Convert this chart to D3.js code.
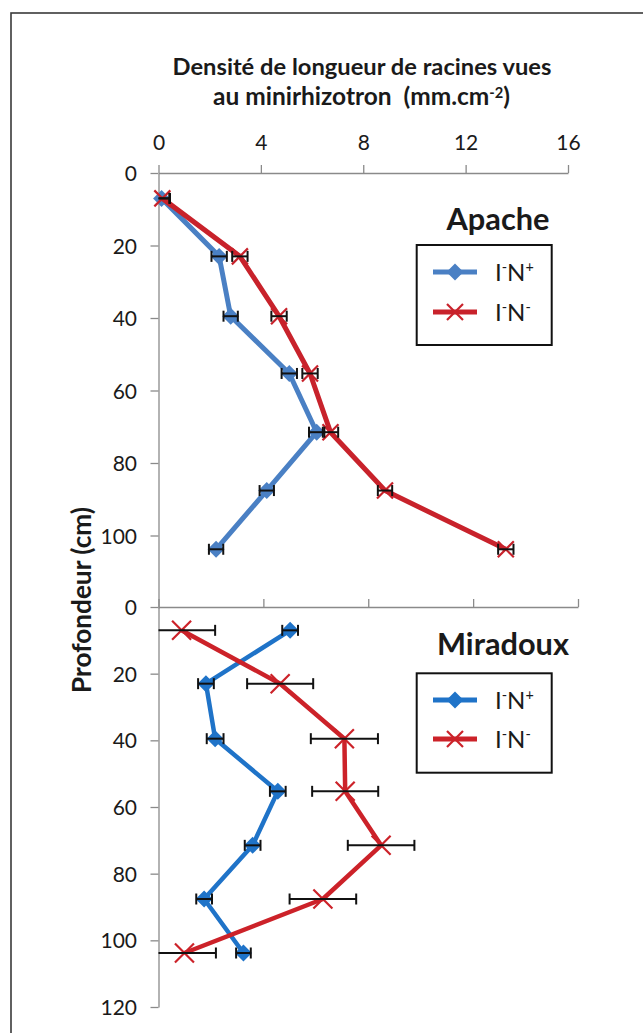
<!DOCTYPE html>
<html>
<head>
<meta charset="utf-8">
<script src="https://cdn.jsdelivr.net/npm/d3@7/dist/d3.min.js"></script>
<style>
  html, body { margin: 0; padding: 0; background: #fff; }
  svg { display: block; }
  text { font-family: Lato, "Open Sans", sans-serif; fill: #1a1a1a; }
</style>
</head>
<body>
<svg id="chart" width="643" height="1033"></svg>
<script>
// ---------- DATA ----------
const depths = [7, 23, 39.5, 55.3, 71.5, 87.6, 103.8];
const xTickValues = [0, 4, 8, 12, 16];
const yTickValuesTop = [0, 20, 40, 60, 80, 100];
const yTickValuesBottom = [0, 20, 40, 60, 80, 100, 120];

const apacheNplus = [0.12, 2.37, 2.82, 5.11, 6.18, 4.23, 2.25];
const apacheNplusErr = [0.3, 0.3, 0.28, 0.3, 0.3, 0.28, 0.28];
const apacheNminus = [0.15, 3.18, 4.71, 5.92, 6.72, 8.85, 13.57];
const apacheNminusErr = [0.3, 0.3, 0.3, 0.3, 0.3, 0.28, 0.3];

const miradouxNplus = [5.02, 1.81, 2.16, 4.55, 3.59, 1.74, 3.24];
const miradouxNplusErr = [0.3, 0.3, 0.32, 0.3, 0.3, 0.3, 0.28];
const miradouxNminus = [0.88, 4.64, 7.09, 7.12, 8.49, 6.27, 0.99];
const miradouxNminusErr = [1.28, 1.26, 1.28, 1.26, 1.27, 1.27, 1.2];

const titleLine1 = "Densité de longueur de racines vues";
const yAxisLabel = "Profondeur (cm)";
const panelNames = ["Apache", "Miradoux"];

// ---------- SETUP ----------
const svg = d3.select("#chart");
const axisColor = "#8a8a8a";

// outer frame
svg.append("rect").attr("x", 11).attr("y", 13).attr("width", 700).attr("height", 1100)
  .attr("fill", "none").attr("stroke", "#3a3a3a").attr("stroke-width", 1.6);

function fitText(sel, w) {
  const node = sel.node();
  const cur = parseFloat(sel.attr("font-size"));
  const len = node.getComputedTextLength();
  sel.attr("font-size", (cur * w / len).toFixed(2));
}

// title
const t1 = svg.append("text").attr("x", 362).attr("y", 75).attr("text-anchor", "middle")
  .attr("font-weight", "bold").attr("font-size", 17).text(titleLine1);
fitText(t1, 379);
const t2 = svg.append("text").attr("x", 361.5).attr("y", 104.5).attr("text-anchor", "middle")
  .attr("font-weight", "bold").attr("font-size", 17);
t2.append("tspan").text("au minirhizotron\u00A0\u00A0(mm.cm");
t2.append("tspan").attr("dy", -7).attr("font-size", "0.6em").text("-2");
t2.append("tspan").attr("dy", 7).text(")");
fitText(t2, 297);

// y-axis label
const yl = svg.append("text").attr("transform", "translate(91,600) rotate(-90)")
  .attr("text-anchor", "middle").attr("font-weight", "bold").attr("font-size", 18).text(yAxisLabel);
fitText(yl, 186);

// ---------- PANELS ----------
const panels = [
  {
    name: panelNames[0], top: true,
    x: d3.scaleLinear().domain([0, 16]).range([158.5, 568]),
    y: d3.scaleLinear().domain([0, 120]).range([173, 608]),
    yTicks: yTickValuesTop,
    blue: "#4a80c4", red: "#c8222b", lw: 5,
    nplus: apacheNplus, nplusErr: apacheNplusErr,
    nminus: apacheNminus, nminusErr: apacheNminusErr,
    title: { x: 498, y: 230, w: 103 },
    legend: { x: 416.7, y: 245, w: 135, h: 100, l1: 272, l2: 312 }
  },
  {
    name: panelNames[1], top: false,
    x: d3.scaleLinear().domain([0, 16]).range([158.5, 578]),
    y: d3.scaleLinear().domain([0, 120]).range([607, 1007]),
    yTicks: yTickValuesBottom,
    blue: "#1f73c8", red: "#cc2229", lw: 4.5,
    nplus: miradouxNplus, nplusErr: miradouxNplusErr,
    nminus: miradouxNminus, nminusErr: miradouxNminusErr,
    title: { x: 503, y: 655, w: 132 },
    legend: { x: 416.7, y: 673.3, w: 135, h: 99.4, l1: 700, l2: 739 }
  }
];

function styleAxis(g) {
  g.selectAll("path.domain").attr("stroke", axisColor).attr("stroke-width", 1.3);
  g.selectAll(".tick line").attr("stroke", axisColor).attr("stroke-width", 1.3);
  g.selectAll(".tick text").attr("font-family", "Lato, sans-serif").attr("font-size", 21).attr("fill", "#1a1a1a");
}

function diamond(sel, cx, cy, r, color) {
  sel.append("path")
    .attr("d", `M${cx},${cy - r}L${cx + r},${cy}L${cx},${cy + r}L${cx - r},${cy}Z`)
    .attr("fill", color);
}
function cross(sel, cx, cy, r, color) {
  sel.append("path")
    .attr("d", `M${cx - r},${cy - r}L${cx + r},${cy + r}M${cx - r},${cy + r}L${cx + r},${cy - r}`)
    .attr("stroke", color).attr("stroke-width", 2.2).attr("fill", "none");
}

panels.forEach(p => {
  const g = svg.append("g");
  // x axis (top)
  const xa = g.append("g").attr("transform", `translate(0,${p.y(0)})`)
    .call(d3.axisTop(p.x).tickValues(xTickValues).tickSizeInner(8).tickSizeOuter(0).tickPadding(15.5)
      .tickFormat(p.top ? d3.format("d") : () => ""));
  styleAxis(xa);
  // y axis
  const ya = g.append("g").attr("transform", `translate(${p.x(0)},0)`)
    .call(d3.axisLeft(p.y).tickValues(p.yTicks).tickSizeInner(8).tickSizeOuter(0).tickPadding(13.5)
      .tickFormat(d3.format("d")));
  styleAxis(ya);
  ya.selectAll(".tick text").attr("dy", "0.36em");

  const line = d3.line().x(d => p.x(d[0])).y(d => p.y(d[1]));
  const bluePts = p.nplus.map((v, i) => [v, depths[i]]);
  const redPts = p.nminus.map((v, i) => [v, depths[i]]);

  g.append("path").datum(bluePts).attr("d", line).attr("fill", "none")
    .attr("stroke", p.blue).attr("stroke-width", p.lw).attr("stroke-linejoin", "round");
  bluePts.forEach(d => diamond(g, p.x(d[0]), p.y(d[1]), 8.5, p.blue));

  g.append("path").datum(redPts).attr("d", line).attr("fill", "none")
    .attr("stroke", p.red).attr("stroke-width", p.lw).attr("stroke-linejoin", "round");
  redPts.forEach(d => cross(g, p.x(d[0]), p.y(d[1]), p.top ? 8 : 9.5, p.red));

  // error bars
  function errBars(vals, errs) {
    vals.forEach((v, i) => {
      const cy = p.y(depths[i]);
      const lo = Math.max(0, v - errs[i]);
      const hi = v + errs[i];
      const x1 = p.x(lo), x2 = p.x(hi);
      g.append("line").attr("x1", x1).attr("x2", x2).attr("y1", cy).attr("y2", cy)
        .attr("stroke", "#111").attr("stroke-width", 2);
      if (v - errs[i] >= 0) {
        g.append("line").attr("x1", x1).attr("x2", x1).attr("y1", cy - 5.5).attr("y2", cy + 5.5)
          .attr("stroke", "#111").attr("stroke-width", 2);
      }
      g.append("line").attr("x1", x2).attr("x2", x2).attr("y1", cy - 5.5).attr("y2", cy + 5.5)
        .attr("stroke", "#111").attr("stroke-width", 2);
    });
  }
  errBars(p.nplus, p.nplusErr);
  errBars(p.nminus, p.nminusErr);

  // panel title
  const pt = g.append("text").attr("x", p.title.x).attr("y", p.title.y).attr("text-anchor", "middle")
    .attr("font-weight", "bold").attr("font-size", 26).text(p.name);
  fitText(pt, p.title.w);

  // legend
  const L = p.legend;
  g.append("rect").attr("x", L.x).attr("y", L.y).attr("width", L.w).attr("height", L.h)
    .attr("fill", "#fff").attr("stroke", "#111").attr("stroke-width", 2);
  [[L.l1, p.blue, "+", "b"], [L.l2, p.red, "-", "r"]].forEach(([ly, col, sign, kind]) => {
    g.append("line").attr("x1", 433).attr("x2", 477).attr("y1", ly).attr("y2", ly)
      .attr("stroke", col).attr("stroke-width", 5);
    if (kind === "b") diamond(g, 455, ly, 8.5, col); else cross(g, 455, ly, 8, col);
    const lt = g.append("text").attr("x", 495).attr("y", ly + 8.5).attr("font-size", 24);
    lt.append("tspan").text("I");
    lt.append("tspan").attr("dy", -9).attr("font-size", "0.6em").text("-");
    lt.append("tspan").attr("dy", 9).text("N");
    lt.append("tspan").attr("dy", -9).attr("font-size", "0.6em").text(sign);
  });
});
</script>
</body>
</html>
